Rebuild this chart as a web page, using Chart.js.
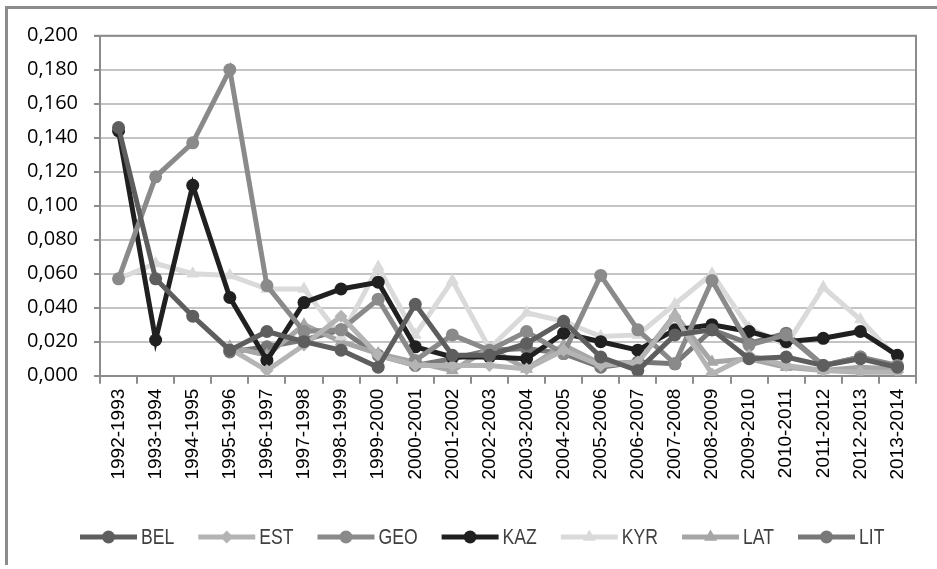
<!DOCTYPE html>
<html><head><meta charset="utf-8">
<script src="https://cdn.jsdelivr.net/npm/chart.js@4.4.1/dist/chart.umd.min.js"></script>
<style>html,body{margin:0;padding:0;background:#fff;overflow:hidden}#c{display:block;width:937px;height:569px}</style>
</head><body>
<canvas id="c" width="937" height="569"></canvas>
<script>
const categories = ["1992-1993","1993-1994","1994-1995","1995-1996","1996-1997","1997-1998","1998-1999","1999-2000","2000-2001","2001-2002","2002-2003","2003-2004","2004-2005","2005-2006","2006-2007","2007-2008","2008-2009","2009-2010","2010-2011","2011-2012","2012-2013","2013-2014"];
const seriesNames = ["BEL","EST","GEO","KAZ","KYR","LAT","LIT"];
const BEL = [0.146,0.057,0.035,0.015,0.026,0.020,0.015,0.005,0.042,0.012,0.012,0.019,0.032,0.011,0.003,0.024,0.027,0.010,0.011,0.006,0.010,0.005];
const EST = [null,null,null,0.016,0.003,0.018,0.035,0.012,0.006,0.006,0.006,0.004,0.015,0.006,0.008,0.035,0.001,0.012,0.006,0.003,0.002,0.002];
const GEO = [0.057,0.117,0.137,0.180,0.053,0.026,0.027,0.045,0.009,0.024,0.015,0.026,0.013,0.059,0.027,0.007,0.056,0.018,0.024,0.006,0.011,0.006];
const KAZ = [0.144,0.021,0.112,0.046,0.009,0.043,0.051,0.055,0.017,0.011,0.011,0.010,0.025,0.020,0.015,0.027,0.030,0.026,0.020,0.022,0.026,0.012];
const KYR = [0.057,0.066,0.060,0.059,0.051,0.051,0.023,0.064,0.024,0.056,0.016,0.037,0.032,0.023,0.024,0.042,0.060,0.028,0.018,0.052,0.033,0.010];
const LAT = [null,null,null,0.017,0.012,0.030,0.020,0.013,0.008,0.003,0.016,0.004,0.018,0.007,0.008,0.036,0.008,0.010,0.005,0.003,0.005,0.004];
const LIT = [null,null,null,0.014,0.017,0.021,0.027,0.012,0.006,0.010,0.015,0.016,0.013,0.005,0.008,0.007,0.027,0.019,0.025,0.006,0.011,0.005];
const yTicks = [0,0.02,0.04,0.06,0.08,0.10,0.12,0.14,0.16,0.18,0.20];

const seriesData = [BEL, EST, GEO, KAZ, KYR, LAT, LIT];
const colors = ['#5e5e5e','#b4b4b4','#8a8a8a','#202020','#dadada','#a6a6a6','#787878'];
const styles = ['circle','rectRot','circle','circle','triangle','triangle','circle'];
const radii = [6.5,6.5,6.5,6.5,7.5,7.5,6.5];

const datasets = seriesNames.map((n,i)=>({
  label:n, data:seriesData[i], borderColor:colors[i], backgroundColor:colors[i],
  borderWidth:5, pointStyle:styles[i], pointRadius:radii[i], pointBorderWidth:0,
  pointBackgroundColor:colors[i], pointBorderColor:colors[i], tension:0, spanGaps:false
}));

const legendFont = "22px 'Liberation Sans', Arial, sans-serif";
const legendSqueeze = 0.8;

const framePlugin = {
  id:'frame',
  beforeDraw(chart){
    const ctx = chart.ctx;
    ctx.save();
    ctx.fillStyle='#fff'; ctx.fillRect(0,0,chart.width,chart.height);
    ctx.strokeStyle='#8c8c8c'; ctx.lineWidth=3;
    ctx.beginPath(); ctx.moveTo(6.5,565); ctx.lineTo(6.5,7.5); ctx.lineTo(chart.width,7.5); ctx.stroke();
    ctx.restore();
  },
  beforeDatasetsDraw(chart){
    const {ctx, chartArea:a} = chart;
    ctx.save(); ctx.strokeStyle='#8c8c8c'; ctx.lineWidth=2;
    ctx.beginPath(); ctx.moveTo(a.left-6,a.top); ctx.lineTo(a.right,a.top); ctx.lineTo(a.right,a.bottom+1); ctx.stroke();
    ctx.restore();
  },
  afterDraw(chart){
    const ctx = chart.ctx;
    ctx.save();
    ctx.font = legendFont;
    ctx.textBaseline='middle'; ctx.textAlign='left';
    let x = 80; const y = 537; const lineLen = 57;
    seriesNames.forEach((n,i)=>{
      ctx.strokeStyle=colors[i]; ctx.fillStyle=colors[i]; ctx.lineWidth=5;
      ctx.beginPath(); ctx.moveTo(x,y); ctx.lineTo(x+lineLen,y); ctx.stroke();
      Chart.helpers.drawPoint(ctx,{pointStyle:styles[i],radius:radii[i],rotation:0,borderWidth:0},x+lineLen/2,y);
      ctx.fillStyle='#404040';
      const tx = x+lineLen+4;
      ctx.save(); ctx.translate(tx,y+1); ctx.scale(legendSqueeze,1); ctx.fillText(n,0,0); ctx.restore();
      x = tx + ctx.measureText(n).width*legendSqueeze + 24;
    });
    ctx.restore();
  }
};

new Chart(document.getElementById('c'),{
  type:'line',
  data:{labels:categories, datasets},
  options:{
    responsive:false, animation:false, devicePixelRatio:1,
    layout:{padding:{left:0,right:21,top:35.7,bottom:73.3}},
    plugins:{legend:{display:false}, tooltip:{enabled:false}},
    scales:{
      x:{
        offset:true,
        grid:{display:true, drawOnChartArea:false, drawTicks:true, tickLength:8, offset:true, color:'#8c8c8c', lineWidth:2},
        border:{display:true, color:'#8c8c8c', width:2},
        ticks:{minRotation:90, maxRotation:90, autoSkip:false, padding:5, color:'#000',
          font:{family:"'Liberation Sans', Arial, sans-serif", size:19}},
        afterFit(s){ s.height = 120; }
      },
      y:{
        min:0, max:0.2,
        afterBuildTicks(s){ s.ticks = yTicks.map(v=>({value:v})); },
        grid:{color:'#c4c4c4', lineWidth:2, tickLength:6, tickColor:'#8c8c8c'},
        border:{display:true, color:'#8c8c8c', width:2},
        ticks:{padding:16, color:'#000', callback:v=>v.toFixed(3).replace('.',','),
          font:{family:"'Open Sans', sans-serif", size:20}},
        afterFit(s){ s.width = 100; }
      }
    }
  },
  plugins:[framePlugin]
});
</script>
</body></html>
